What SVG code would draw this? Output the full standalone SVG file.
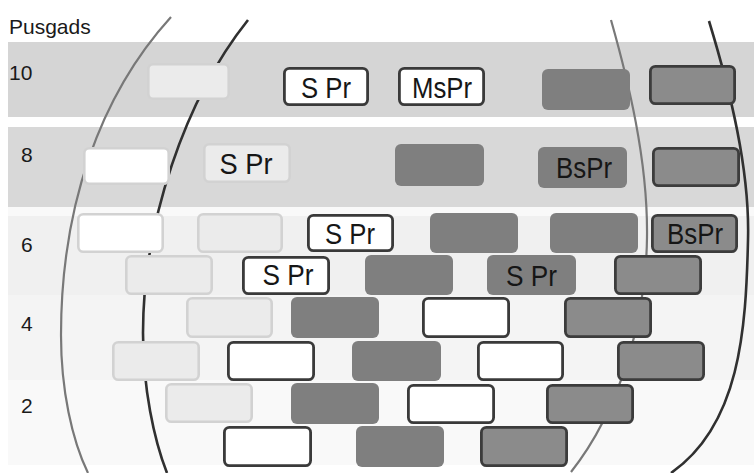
<svg xmlns="http://www.w3.org/2000/svg" width="754" height="473" viewBox="0 0 754 473">
  <style>
    .lbl { font-family: "Liberation Sans", Arial, sans-serif; font-size: 21px; fill: #1a1a1a; }
    .tx { font-family: "Liberation Sans", Arial, sans-serif; font-size: 30px; fill: #161616; text-anchor: middle; }
    .lt { fill: #ebebeb; stroke: #d2d2d2; stroke-width: 2.6; }
    .wl { fill: #ffffff; stroke: #d2d2d2; stroke-width: 2.6; }
    .wd { fill: #ffffff; stroke: #3a3a3a; stroke-width: 2.8; }
    .dk { fill: #7f7f7f; }
    .md { fill: #8b8b8b; stroke: #3c3c3c; stroke-width: 2.8; }
    .arc-g { fill: none; stroke: #787878; stroke-width: 2.2; }
    .arc-d { fill: none; stroke: #303030; stroke-width: 2.6; }
  </style>

  <rect width="754" height="473" fill="#ffffff"/>

  <!-- horizontal bands -->
  <g id="bands">
    <rect x="8" y="42" width="746" height="75" fill="#d5d5d5"/>
    <rect x="8" y="127" width="746" height="80" fill="#d8d8d8"/>
    <rect x="8" y="207" width="746" height="9" fill="#f9f9f9"/>
    <rect x="8" y="216" width="746" height="79" fill="#f0f0f0"/>
    <rect x="8" y="295" width="746" height="85" fill="#f4f4f4"/>
    <rect x="8" y="380" width="746" height="85" fill="#f9f9f9"/>
  </g>

  <g id="labels">
    <text class="lbl" x="9" y="34">Pusgads</text>
    <text class="lbl" x="9" y="80" font-size="22">10</text>
    <text class="lbl" x="21" y="162">8</text>
    <text class="lbl" x="21" y="252">6</text>
    <text class="lbl" x="21" y="331">4</text>
    <text class="lbl" x="21" y="413">2</text>
  </g>

  <!-- sweeping curves, drawn beneath the boxes -->
  <g id="connectors">
    <path class="arc-g" d="M171,17 C99.5,95.6 61,207 61,335 C61,390 72,440 88,473"/>
    <path class="arc-d" d="M248,20 C185,99 143,223 143,333 C143,388 154,440 167,473"/>
    <path class="arc-g" d="M611,20 C628,80 648,160 647,237 C646,320 620,410 571,472"/>
    <path class="arc-d" d="M709,21 C730,90 750,170 748,240 C746,330 740,425 671,473"/>
  </g>

  <!-- row 10 -->
  <g id="n1"><rect class="lt" x="148.3" y="64.3" width="80.4" height="34.4" rx="5"/></g>
  <g id="n2"><rect class="wd" x="284.4" y="68.4" width="83.2" height="36.2" rx="5"/><text class="tx" x="326" y="98" textLength="50" lengthAdjust="spacingAndGlyphs">S Pr</text></g>
  <g id="n3"><rect class="wd" x="399.4" y="68.4" width="84.2" height="36.2" rx="5"/><text class="tx" x="442" y="98" textLength="60" lengthAdjust="spacingAndGlyphs">MsPr</text></g>
  <g id="n4"><rect class="dk" x="542" y="69" width="88" height="41" rx="6"/></g>
  <g id="n5"><rect class="md" x="650.4" y="66.4" width="84.2" height="37.2" rx="5"/></g>

  <!-- row 8 -->
  <g id="n6"><rect class="wl" x="84.3" y="148.3" width="84.4" height="35.4" rx="5"/></g>
  <g id="n7"><rect class="lt" x="204.3" y="144.3" width="85.4" height="37.4" rx="5"/><text class="tx" x="246" y="174" textLength="53" lengthAdjust="spacingAndGlyphs">S Pr</text></g>
  <g id="n8"><rect class="dk" x="395" y="144" width="89" height="42" rx="6"/></g>
  <g id="n9"><rect class="dk" x="538" y="147" width="89" height="41" rx="6"/><text class="tx" x="584" y="178" textLength="56" lengthAdjust="spacingAndGlyphs">BsPr</text></g>
  <g id="n10"><rect class="md" x="653.4" y="148.4" width="85.2" height="37.2" rx="5"/></g>

  <!-- row 6, upper -->
  <g id="n11"><rect class="wl" x="78.3" y="214.3" width="84.4" height="37.4" rx="5"/></g>
  <g id="n12"><rect class="lt" x="198.3" y="214.3" width="83.4" height="37.4" rx="5"/></g>
  <g id="n13"><rect class="wd" x="308.4" y="215.4" width="84.2" height="35.2" rx="5"/><text class="tx" x="350" y="244" textLength="50" lengthAdjust="spacingAndGlyphs">S Pr</text></g>
  <g id="n14"><rect class="dk" x="430" y="213" width="88" height="40" rx="6"/></g>
  <g id="n15"><rect class="dk" x="550" y="213" width="88" height="40" rx="6"/></g>
  <g id="n16"><rect class="md" x="652.4" y="215.4" width="84.2" height="36.2" rx="5"/><text class="tx" x="695" y="244" textLength="56" lengthAdjust="spacingAndGlyphs">BsPr</text></g>

  <!-- row 6, lower -->
  <g id="n17"><rect class="lt" x="126.3" y="256.3" width="85.4" height="37.4" rx="5"/></g>
  <g id="n18"><rect class="wd" x="243.4" y="257.4" width="85.2" height="36.2" rx="5"/><text class="tx" x="288" y="285" textLength="51" lengthAdjust="spacingAndGlyphs">S Pr</text></g>
  <g id="n19"><rect class="dk" x="365" y="255" width="88" height="40" rx="6"/></g>
  <g id="n20"><rect class="dk" x="487" y="255" width="89" height="40" rx="6"/><text class="tx" x="531.5" y="286" textLength="51" lengthAdjust="spacingAndGlyphs">S Pr</text></g>
  <g id="n21"><rect class="md" x="615.4" y="256.4" width="85.2" height="37.2" rx="5"/></g>

  <!-- row 4, upper -->
  <g id="n22"><rect class="lt" x="187.3" y="298.3" width="84.4" height="38.4" rx="5"/></g>
  <g id="n23"><rect class="dk" x="291" y="297" width="88" height="41" rx="6"/></g>
  <g id="n24"><rect class="wd" x="423.4" y="298.4" width="85.2" height="38.2" rx="5"/></g>
  <g id="n25"><rect class="md" x="565.4" y="298.4" width="85.2" height="38.2" rx="5"/></g>

  <!-- row 4, lower -->
  <g id="n26"><rect class="lt" x="113.3" y="342.3" width="85.4" height="37.4" rx="5"/></g>
  <g id="n27"><rect class="wd" x="228.4" y="342.4" width="85.2" height="37.2" rx="5"/></g>
  <g id="n28"><rect class="dk" x="352" y="341" width="89" height="40" rx="6"/></g>
  <g id="n29"><rect class="wd" x="478.4" y="342.4" width="84.2" height="37.2" rx="5"/></g>
  <g id="n30"><rect class="md" x="618.4" y="342.4" width="85.2" height="37.2" rx="5"/></g>

  <!-- row 2, upper -->
  <g id="n31"><rect class="lt" x="166.3" y="384.3" width="85.4" height="37.4" rx="5"/></g>
  <g id="n32"><rect class="dk" x="291" y="383" width="88" height="41" rx="6"/></g>
  <g id="n33"><rect class="wd" x="408.4" y="385.4" width="85.2" height="37.2" rx="5"/></g>
  <g id="n34"><rect class="md" x="547.4" y="385.4" width="85.2" height="37.2" rx="5"/></g>

  <!-- row 2, lower -->
  <g id="n35"><rect class="wd" x="224.4" y="427.4" width="86.2" height="38.2" rx="5"/></g>
  <g id="n36"><rect class="dk" x="356" y="426" width="88" height="41" rx="6"/></g>
  <g id="n37"><rect class="md" x="481.4" y="427.4" width="85.2" height="38.2" rx="5"/></g>
</svg>
